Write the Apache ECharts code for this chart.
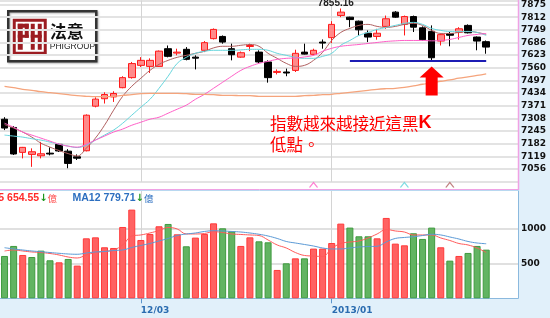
<!DOCTYPE html>
<html><head><meta charset="utf-8">
<script src="https://cdn.jsdelivr.net/npm/echarts@6/dist/echarts.min.js"></script>
<style>html,body{margin:0;padding:0;background:#fff}#c{width:550px;height:318px}</style>
</head><body><div id="c"></div>
<script>
const dates = ['2012/11/12','2012/11/13','2012/11/14','2012/11/15','2012/11/16','2012/11/19','2012/11/20','2012/11/21','2012/11/22','2012/11/23',
'2012/11/26','2012/11/27','2012/11/28','2012/11/29','2012/11/30','2012/12/03','2012/12/04','2012/12/05','2012/12/06','2012/12/07',
'2012/12/10','2012/12/11','2012/12/12','2012/12/13','2012/12/14','2012/12/17','2012/12/18','2012/12/19','2012/12/20','2012/12/21',
'2012/12/24','2012/12/25','2012/12/26','2012/12/27','2012/12/28','2012/12/31','2013/01/02','2013/01/03','2013/01/04','2013/01/07',
'2013/01/08','2013/01/09','2013/01/10','2013/01/11','2013/01/14','2013/01/15','2013/01/16','2013/01/17','2013/01/18','2013/01/21',
'2013/01/22','2013/01/23','2013/01/24','2013/01/25','2013/01/28','2013/01/29','2013/01/30'];
const tickDates = ['2012/12/03','2013/01/02'];
const tickTexts = ['12/03','2013/01'];
// [open, close, low, high]
const ohlc = [[7304,7260,7250,7314],[7263,7131,7126,7270],[7139,7164,7109,7166],[7129,7142,7067,7159],[7122,7132,7109,7191],
[7135,7131,7124,7164],[7179,7146,7141,7183],[7145,7084,7060,7155],[7117,7110,7101,7129],[7147,7324,7144,7328],
[7369,7404,7363,7413],[7406,7427,7382,7438],[7415,7432,7390,7443],[7461,7511,7458,7518],[7511,7581,7506,7589],
[7572,7597,7564,7613],[7567,7597,7534,7607],[7567,7643,7565,7646],[7655,7617,7612,7671],[7633,7638,7622,7655],
[7652,7602,7597,7663],[7613,7608,7552,7622],[7647,7685,7638,7693],[7705,7751,7701,7756],[7716,7688,7680,7721],
[7655,7625,7597,7680],[7613,7635,7610,7641],[7666,7671,7643,7680],[7638,7589,7582,7647],[7589,7511,7486,7597],
[7537,7542,7527,7552],[7539,7534,7518,7556],[7547,7632,7539,7650],[7638,7628,7626,7680],[7627,7647,7622,7655],
[7688,7683,7655,7701],[7710,7776,7683,7792],[7820,7837,7812,7855.16],[7812,7800,7762,7814],[7792,7749,7721,7795],
[7732,7713,7688,7746],[7716,7732,7700,7754],[7766,7804,7754,7820],[7837,7812,7809,7842],[7776,7815,7721,7820],
[7815,7762,7738,7820],[7759,7700,7696,7766],[7741,7610,7594,7771],[7693,7725,7671,7731],[7730,7722,7667,7738],
[7737,7754,7700,7762],[7771,7734,7731,7776],[7713,7693,7647,7716],[7690,7663,7630,7696]];
const ma5 = [7277,7260,7240,7215,7185,7165,7148,7133,7121,7160,7210,7274,7349,7418,7468,7508,7547,7577,7597,7612,
7622,7632,7642,7659,7667,7667,7672,7676,7667,7632,7607,7582,7567,7572,7597,7637,7696,7736,7756,7771,
7776,7766,7761,7766,7776,7781,7771,7746,7731,7731,7736,7741,7736,7726];
const ma10 = [7225,7220,7215,7207,7200,7190,7180,7170,7163,7175,7200,7225,7250,7284,7324,7364,7403,7458,7518,7582,
7612,7632,7642,7647,7647,7647,7649,7652,7652,7647,7632,7622,7612,7607,7607,7617,7632,7672,7696,7721,
7736,7751,7761,7771,7781,7786,7776,7756,7746,7741,7741,7741,7736,7721];
const ma20 = [7284,7264,7240,7225,7210,7195,7180,7170,7165,7180,7200,7220,7240,7255,7274,7289,7304,7314,7334,7354,
7374,7403,7428,7458,7488,7518,7547,7567,7582,7592,7602,7607,7609,7614,7622,7642,7657,7667,7672,7676,
7681,7686,7691,7694,7696,7696,7696,7694,7696,7701,7711,7721,7726,7731];
const ma60 = [7468,7461,7453,7448,7441,7436,7431,7426,7421,7418,7416,7416,7418,7423,7426,7431,7433,7433,7433,7433,
7431,7428,7428,7426,7423,7423,7421,7421,7418,7418,7418,7418,7418,7421,7423,7426,7428,7433,7438,7443,
7448,7453,7456,7458,7463,7470,7478,7485,7493,7500,7508,7515,7522,7530];
const volume = [605,748,619,590,681,543,514,562,467,857,871,729,719,1019,1267,833,919,1029,1062,914,
743,867,919,1071,1000,957,748,871,814,800,405,500,571,571,710,710,790,1067,1010,886,
886,857,1148,781,757,929,848,1010,729,538,605,648,748,695];
const volumeUp = [0,0,1,0,0,0,1,0,1,1,1,1,1,1,1,1,1,1,0,1,0,1,1,1,0,0,1,1,0,0,1,0,1,0,1,1,1,1,0,0,0,1,1,1,1,0,0,0,1,0,1,0,0,0];
const volMa5 = [676,690,676,662,654,640,619,590,576,619,654,669,690,762,890,905,933,969,1012,990,
919,919,926,952,940,919,912,905,897,833,762,719,654,612,604,597,712,783,804,819,
862,919,983,962,947,905,905,905,862,826,783,762,719,654.55];
const volMa12 = [723,705,690,676,666,654,643,633,629,647,662,669,683,690,726,755,783,819,855,897,
919,933,955,966,962,955,947,933,915,890,855,812,790,769,747,719,705,705,719,733,
740,743,805,855,869,880,897,915,905,876,847,812,790,779.71];
const priceTicks = {min:6993, max:7895, step:63, first:7056, last:7875};
const volTicks = [500, 1000];
const signalDates = ['2012/12/28','2013/01/14','2013/01/21'];
const signalColors = ['#ff5fc8','#5fd3dc','#b06060'];
const supportFrom = '2013/01/04', supportTo = '2013/01/25', lowDate = '2013/01/17';

const lowIdx = dates.indexOf(lowDate);
const supportLow = ohlc[lowIdx][2];
const tickFn = (i, v) => tickDates.indexOf(v) >= 0;
const labelFont = {fontFamily:'DejaVu Sans', fontWeight:'bold', fontSize:9, color:'#111'};

const chart = echarts.init(document.getElementById('c'), null, {width:550, height:318});
const hiddenX = (g) => ({type:'category', gridIndex:g, data:dates, axisLine:{show:false}, axisTick:{show:false}, axisLabel:{show:false}, splitLine:{show:false}});
const vline = {silent:true, symbol:'none', z:1, label:{show:false}, lineStyle:{color:'#d4d4d4', width:1, type:'solid'},
  data: tickDates.map(d => ({xAxis:d}))};
const maLine = (name, data, color, w) => ({name, type:'line', xAxisIndex:0, yAxisIndex:0, data, symbol:'none', smooth:0.4, z:4,
  lineStyle:{color, width:w}, silent:true});

chart.setOption({
  animation:false,
  backgroundColor:'#e1f0fa',
  grid:[
    {left:-3, right:32, top:0, height:181.7, show:true, backgroundColor:'#fff', borderWidth:0},
    {left:-3, right:32, top:181.7, height:7.3, show:true, backgroundColor:'#fff', borderWidth:0},
    {left:-3, right:32, top:191, height:107.3, show:true, backgroundColor:'#fff', borderWidth:0}
  ],
  xAxis:[hiddenX(0), hiddenX(1),
    {type:'category', gridIndex:2, data:dates,
     axisLine:{show:true, lineStyle:{color:'#8bb9de', width:1}},
     axisTick:{show:true, alignWithLabel:true, interval:tickFn, length:5, lineStyle:{color:'#5b95cc'}},
     axisLabel:{interval:tickFn, formatter:v => tickTexts[tickDates.indexOf(v)] || '', align:'left', margin:8,
       fontFamily:'DejaVu Sans', fontWeight:'bold', fontSize:9, color:'#2a6cb0'},
     splitLine:{show:false}}],
  yAxis:[
    {type:'value', gridIndex:0, position:'right', min:priceTicks.min, max:priceTicks.max, interval:priceTicks.step,
     axisLine:{show:false}, axisTick:{show:false},
     splitLine:{lineStyle:{color:'#e3e3e3', width:2}},
     axisLabel:Object.assign({margin:3, align:'left', formatter:v => (v >= priceTicks.first - 1 && v <= priceTicks.last + 1) ? String(Math.round(v)) : ''}, labelFont)},
    {type:'value', gridIndex:1, min:0, max:1, show:false},
    {type:'value', gridIndex:2, position:'right', min:0, max:1533, interval:500,
     axisLine:{show:false}, axisTick:{show:false}, splitLine:{show:false},
     axisLabel:Object.assign({margin:3, align:'left', formatter:v => volTicks.indexOf(v) >= 0 ? String(v) : ''}, labelFont)}
  ],
  series:[
    {type:'line', xAxisIndex:0, yAxisIndex:0, data:[], markLine:vline, silent:true},
    {name:'K', type:'candlestick', xAxisIndex:0, yAxisIndex:0, data:ohlc, barWidth:7, z:3,
     itemStyle:{color:'#ff8a8a', color0:'#000', borderColor:'#ff1a1a', borderColor0:'#000', borderWidth:1},
     markLine:{silent:true, symbol:'none', z:6, label:{show:false}, lineStyle:{color:'#1c1cb4', width:2, type:'solid'},
       data:[[{coord:[supportFrom, supportLow]}, {coord:[supportTo, supportLow]}]]},
     markPoint:{silent:true, z:7, data:[
       {coord:[lowDate, supportLow], symbol:'path://M12,0 L24,11 L18,11 L18,29 L6,29 L6,11 L0,11 Z', symbolSize:[24,29],
        symbolOffset:[0, 20], itemStyle:{color:'#ff0000'}, label:{show:false}},
       {type:'max', valueDim:'highest', symbol:'rect', symbolSize:1, itemStyle:{color:'rgba(0,0,0,0)'},
        label:{show:true, position:'top', distance:0, offset:[-5,0], formatter:p => p.value.toFixed(2),
          fontFamily:'Liberation Sans', fontWeight:'bold', fontSize:10, color:'#222'}}
     ]}},
    maLine('MA5', ma5, '#b06060', 1),
    maLine('MA10', ma10, '#66d6dd', 1),
    maLine('MA20', ma20, '#ff5fc8', 1),
    maLine('MA60', ma60, '#f5a47c', 1.3),
    {type:'scatter', xAxisIndex:1, yAxisIndex:1, symbol:'path://M0,5 L4,0 L8,5', symbolSize:[8,5], silent:true,
     data: signalDates.map((d, k) => ({value:[d, 0.55], itemStyle:{color:'rgba(0,0,0,0)', borderColor:signalColors[k], borderWidth:1}}))},
    {name:'VOL', type:'bar', xAxisIndex:2, yAxisIndex:2, barWidth:7, z:2,
     data: volume.map((v, i) => ({value:v, itemStyle: volumeUp[i] ? {color:'#ff6262', borderColor:'#ff3a3a', borderWidth:1} : {color:'#62b462', borderColor:'#3f9a3f', borderWidth:1}})),
     markLine:{silent:true, symbol:'none', z:1, label:{show:false}, lineStyle:{color:'#e0e0e0', width:2, type:'solid'},
       data: volTicks.map(v => ({yAxis:v})).concat(tickDates.map(d => ({xAxis:d, lineStyle:{color:'#d4d4d4', width:1}})))}},
    {name:'VMA5', type:'line', xAxisIndex:2, yAxisIndex:2, data:volMa5, symbol:'none', smooth:0.4, z:4, lineStyle:{color:'#ff5a5a', width:1}},
    {name:'VMA12', type:'line', xAxisIndex:2, yAxisIndex:2, data:volMa12, symbol:'none', smooth:0.4, z:4, lineStyle:{color:'#5b9ad6', width:1}}
  ],
  graphic:[
    {type:'line', z:100, shape:{x1:0, y1:189.5, x2:519, y2:189.5}, style:{stroke:'#f0a2e4', lineWidth:1}},
    {type:'line', z:100, shape:{x1:518.5, y1:0, x2:518.5, y2:190}, style:{stroke:'#f0a2e4', lineWidth:1.5}},
    {type:'line', z:100, shape:{x1:0, y1:190.5, x2:519, y2:190.5}, style:{stroke:'#b8d8f0', lineWidth:1}},
    {type:'line', z:100, shape:{x1:518.5, y1:191, x2:518.5, y2:298.5}, style:{stroke:'#8bb9de', lineWidth:1}},
    {type:'text', z:100, left:-18, top:193, style:{text:'{r|MA5 654.55}{g|↓}{r2|億}', rich:{
      r:{fill:'#ff2a2a', fontFamily:'Liberation Sans', fontWeight:'bold', fontSize:10.5},
      g:{fill:'#1a961a', fontFamily:'DejaVu Sans', fontWeight:'bold', fontSize:10},
      r2:{fill:'#ff5050', fontFamily:'Noto Sans CJK TC', fontSize:9.5}}}},
    {type:'text', z:100, left:72.5, top:193, style:{text:'{b|MA12 779.71}{g|↓}{b2|億}', rich:{
      b:{fill:'#2d6fc0', fontFamily:'Liberation Sans', fontWeight:'bold', fontSize:10.5},
      g:{fill:'#1a961a', fontFamily:'DejaVu Sans', fontWeight:'bold', fontSize:10},
      b2:{fill:'#2d6fc0', fontFamily:'Noto Sans CJK TC', fontSize:9.5}}}},
    {type:'text', z:100, left:270, top:113, style:{text:'{a|指數越來越接近這黑}{k|K}\n{a|低點。}', lineHeight:21, rich:{
      a:{fill:'#ff0000', fontFamily:'Noto Sans CJK TC', fontSize:16.5, lineHeight:21},
      k:{fill:'#ff0000', fontFamily:'Liberation Sans', fontWeight:'bold', fontSize:18, lineHeight:21}}}},
    {type:'group', z:100, left:7, top:10, children:[
      {type:'rect', shape:{x:1.5, y:1.5, width:88, height:50}, style:{fill:'#fff', stroke:'#333', lineWidth:2.5, shadowBlur:2, shadowColor:'rgba(0,0,0,0.3)', shadowOffsetX:1, shadowOffsetY:1}},
      {type:'rect', shape:{x:6, y:9, width:34, height:36}, style:{fill:'#9c1c22'}},
      {type:'rect', shape:{x:9, y:12, width:28, height:30}, style:{fill:'#fff'}},
      {type:'rect', shape:{x:11, y:14, width:5, height:26}, style:{fill:'#9c1c22'}},
      {type:'rect', shape:{x:11, y:14, width:11, height:4}, style:{fill:'#9c1c22'}},
      {type:'rect', shape:{x:18, y:14, width:4, height:14}, style:{fill:'#9c1c22'}},
      {type:'rect', shape:{x:11, y:25, width:11, height:3}, style:{fill:'#9c1c22'}},
      {type:'rect', shape:{x:24, y:14, width:4, height:26}, style:{fill:'#9c1c22'}},
      {type:'rect', shape:{x:24, y:25, width:11, height:3}, style:{fill:'#9c1c22'}},
      {type:'rect', shape:{x:31, y:14, width:4, height:26}, style:{fill:'#9c1c22'}},
      {type:'text', x:43, y:13, style:{text:'法意', fill:'#111', fontFamily:'Noto Sans CJK TC', fontWeight:'bold', fontSize:17}},
      {type:'text', x:43, y:32.5, style:{text:'PHIGROUP', fill:'#222', fontFamily:'Liberation Sans', fontSize:8.5}}
    ]}
  ]
});
</script></body></html>
